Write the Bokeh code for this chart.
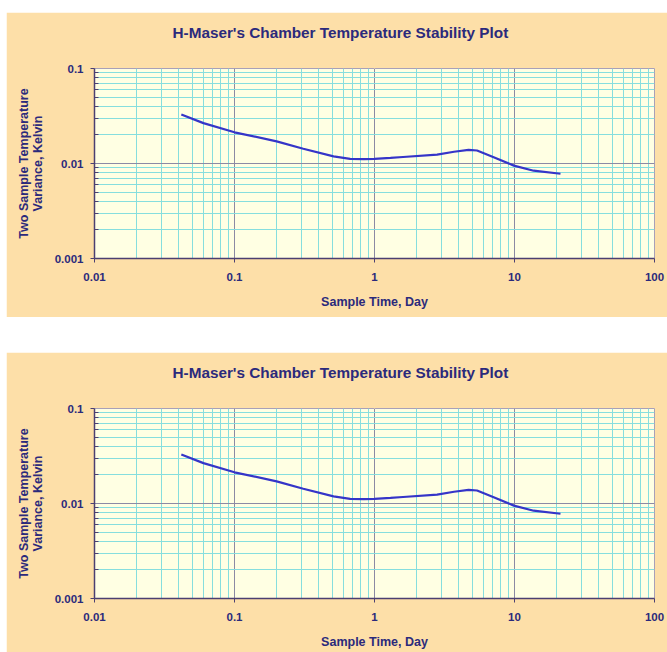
from bokeh.plotting import figure
from bokeh.models import FixedTicker, Title, Spacer, CustomJSTickFormatter, LogAxis
from bokeh.layouts import column, row
from bokeh.embed import file_html
from bokeh.resources import INLINE

# ---- data ----
sample_time_day = [0.0417, 0.06, 0.1, 0.2, 0.31, 0.51, 0.67, 0.84, 1.0, 1.3, 1.6,
                   2.8, 3.7, 4.7, 5.4, 7.1, 9.9, 13.7, 21.3]
variance_kelvin = [0.0328, 0.0266, 0.0213, 0.0171, 0.0143, 0.0119, 0.0112, 0.0111,
                   0.0112, 0.01145, 0.0117, 0.0124, 0.0133, 0.0139, 0.0137, 0.01165,
                   0.0095, 0.0084, 0.0078]

x_major = [0.01, 0.1, 1, 10, 100]
x_labels = ["0.01", "0.1", "1", "10", "100"]
y_major = [0.001, 0.01, 0.1]
y_labels = ["0.001", "0.01", "0.1"]
x_minor = [m * d for d in [0.01, 0.1, 1, 10] for m in range(2, 10)]
y_minor = [m * d for d in [0.001, 0.01] for m in range(2, 10)]

TITLE = "H-Maser's Chamber Temperature Stability Plot"
X_TITLE = "Sample Time, Day"
Y_TITLE_1 = "Two Sample Temperature"
Y_TITLE_2 = "Variance, Kelvin"

FONT = "Liberation Sans"
TEXT_COLOR = "#2B2A7C"
BORDER_BG = "#FDDFA8"
PLOT_BG = "#FFFFE3"
MINOR_GRID = "#86DEDE"
MAJOR_GRID = "#8C8AA4"
AXIS_COLOR = "#4B3F72"
LINE_COLOR = "#3535C8"

FIG_W = 661

FMT_CODE = ("const i = vals.findIndex(v => Math.abs(Math.log10(v) - Math.log10(tick)) < 1e-6);"
            " return i >= 0 ? labs[i] : '';")


def style_label(ax):
    ax.axis_label_text_font = FONT
    ax.axis_label_text_font_size = "12.5px"
    ax.axis_label_text_font_style = "bold"
    ax.axis_label_text_color = TEXT_COLOR


def blank_axis(ticks, **kw):
    return LogAxis(ticker=FixedTicker(ticks=ticks),
                   formatter=CustomJSTickFormatter(code="return '';"),
                   axis_line_color=None,
                   major_tick_line_color=BORDER_BG, minor_tick_line_color=None,
                   major_label_text_font_size="0px", major_label_standoff=0,
                   major_tick_in=0, **kw)


def make_fig(height, bottom_border):
    p = figure(width=FIG_W, height=height, x_axis_type="log", y_axis_type="log",
               x_range=(0.01, 100), y_range=(0.001, 0.1),
               output_backend="svg", toolbar_location=None,
               min_border_left=88, min_border_right=13,
               min_border_top=56, min_border_bottom=bottom_border)
    p.border_fill_color = BORDER_BG
    p.background_fill_color = PLOT_BG
    p.outline_line_color = "#A8A0B8"

    xa = p.below[0]
    ya = p.left[0]

    xa.ticker = FixedTicker(ticks=x_major, minor_ticks=x_minor)
    ya.ticker = FixedTicker(ticks=y_major, minor_ticks=y_minor)
    xa.formatter = CustomJSTickFormatter(args=dict(vals=x_major, labs=x_labels), code=FMT_CODE)
    ya.formatter = CustomJSTickFormatter(args=dict(vals=y_major, labs=y_labels), code=FMT_CODE)

    for ax in (xa, ya):
        ax.axis_line_color = AXIS_COLOR
        ax.axis_line_width = 1.5
        ax.major_tick_line_color = AXIS_COLOR
        ax.major_tick_in = 0
        ax.major_tick_out = 4
        ax.major_label_text_font = FONT
        ax.major_label_text_font_size = "11.5px"
        ax.major_label_text_font_style = "bold"
        ax.major_label_text_color = TEXT_COLOR
        style_label(ax)
    xa.minor_tick_line_color = None
    ya.minor_tick_line_color = AXIS_COLOR
    ya.minor_tick_in = 4
    ya.minor_tick_out = 0
    xa.major_label_standoff = 10
    ya.major_label_standoff = 7
    xa.axis_label = X_TITLE
    ya.axis_label = Y_TITLE_2
    xa.axis_label_standoff = 11
    ya.axis_label_standoff = 7

    # outer (first) line of the two-line y title, as a label-only axis
    outer = blank_axis([], major_tick_out=0, axis_label=Y_TITLE_1, axis_label_standoff=-3)
    style_label(outer)
    p.add_layout(outer, "left")

    # invisible spacer between the frame and the title
    p.add_layout(blank_axis([1], major_tick_out=28), "above")
    title = Title(text=TITLE, align="left", offset=78, standoff=0,
                  vertical_align="bottom",
                  text_font=FONT, text_font_size="15.3px", text_font_style="bold",
                  text_color=TEXT_COLOR)
    p.add_layout(title, "above")

    for g in (p.xgrid, p.ygrid):
        g.grid_line_color = MAJOR_GRID
        g.grid_line_width = 1
        g.minor_grid_line_color = MINOR_GRID
        g.minor_grid_line_width = 1

    p.line(sample_time_day, variance_kelvin, line_color=LINE_COLOR, line_width=2.2)
    return p


p1 = make_fig(305, 59)
p2 = make_fig(300, 54)
layout = column(
    Spacer(height=12),
    row(Spacer(width=6), p1),
    Spacer(height=35),
    row(Spacer(width=6), p2),
)

open("out.html", "w").write(file_html(layout, INLINE))
